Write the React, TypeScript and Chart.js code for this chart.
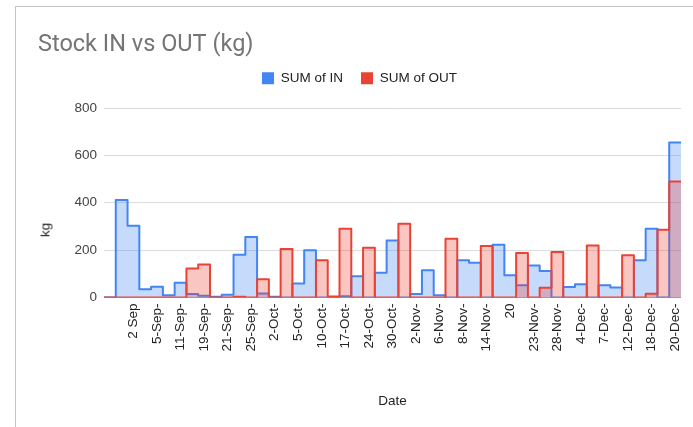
import React, { useEffect, useRef } from 'react';
import Chart from 'chart.js/auto';

const dateLabels: string[] = [
  '', '', '2 Sep', '', '5-Sep-', '', '11-Sep-', '', '19-Sep-', '', '21-Sep-', '', '25-Sep-', '',
  '2-Oct-', '', '5-Oct-', '', '10-Oct-', '', '17-Oct-', '', '24-Oct-', '', '30-Oct-', '',
  '2-Nov-', '', '6-Nov-', '', '8-Nov-', '', '14-Nov-', '', '20', '', '23-Nov-', '', '28-Nov-', '',
  '4-Dec-', '', '7-Dec-', '', '12-Dec-', '', '18-Dec-', '', '20-Dec-',
];

const inValues: number[] = [
  0, 412, 303, 35, 45, 10, 62, 15, 7, 3, 12, 181, 255, 17, 3, 0, 59, 199, 0, 0,
  5, 90, 0, 105, 241, 0, 15, 115, 10, 0, 157, 147, 0, 223, 94, 52, 135, 112, 0, 44,
  56, 0, 52, 42, 0, 157, 290, 0, 654,
];

const outValues: number[] = [
  0, 0, 0, 0, 0, 0, 0, 122, 139, 0, 0, 3, 0, 77, 0, 205, 0, 0, 157, 4,
  290, 0, 210, 0, 0, 311, 0, 0, 0, 248, 0, 0, 217, 0, 0, 188, 0, 41, 192, 0,
  0, 220, 0, 0, 178, 0, 16, 286, 490,
];

const yTicks = { min: 0, max: 800, step: 200 };

const FONT = "'Liberation Sans', Arial, sans-serif";

function steps(vals: number[]) {
  const pts = vals.map((v, i) => ({ x: i, y: v }));
  pts.push({ x: vals.length, y: vals[vals.length - 1] });
  return pts;
}

export default function App() {
  const ref = useRef<HTMLCanvasElement>(null);

  useEffect(() => {
    const legendGap = {
      id: 'legendGap',
      beforeInit(chart: any) {
        const lg = chart.legend;
        if (lg) {
          const fit = lg.fit;
          lg.fit = function () {
            fit.call(this);
            this.height += 13;
          };
        }
      },
    };
    const defaultGen = (Chart as any).defaults.plugins.legend.labels.generateLabels;
    const chart = new Chart(ref.current as HTMLCanvasElement, {
      type: 'line',
      data: {
        labels: dateLabels,
        datasets: [
          {
            label: 'SUM of IN',
            data: steps(inValues),
            xAxisID: 'xs',
            stepped: true,
            borderColor: '#4285f4',
            backgroundColor: 'rgba(66,133,244,0.3)',
            fill: 'origin',
            borderWidth: 2,
            pointRadius: 0,
            borderJoinStyle: 'round',
            order: 2,
          },
          {
            label: 'SUM of OUT',
            data: steps(outValues),
            xAxisID: 'xs',
            stepped: true,
            borderColor: '#ea4335',
            backgroundColor: 'rgba(234,67,53,0.3)',
            fill: 'origin',
            borderWidth: 2,
            pointRadius: 0,
            borderJoinStyle: 'round',
            order: 1,
          },
        ],
      } as any,
      options: {
        animation: false,
        responsive: false,
        maintainAspectRatio: false,
        layout: { padding: { left: 22, right: 25, top: 0, bottom: 0 } },
        plugins: {
          title: {
            display: true,
            text: 'Stock IN vs OUT (kg)',
            align: 'start',
            color: '#757575',
            font: { family: 'Roboto', size: 23.5, weight: 'normal', lineHeight: 1 },
            padding: { top: 26, bottom: -3 },
          },
          legend: {
            display: true,
            position: 'top',
            labels: {
              boxWidth: 12,
              boxHeight: 12,
              padding: 18,
              color: '#222',
              font: { family: FONT, size: 13.5 },
              sort: (a: any, b: any) => a.datasetIndex - b.datasetIndex,
              generateLabels: (c: any) =>
                defaultGen(c).map((l: any) => ({ ...l, fillStyle: l.strokeStyle, lineWidth: 0 })),
            },
          },
          tooltip: { enabled: false },
        },
        scales: {
          x: {
            type: 'category',
            offset: true,
            grid: { display: false, drawTicks: false },
            border: { display: false },
            ticks: {
              autoSkip: false,
              maxRotation: 90,
              minRotation: 90,
              padding: 6,
              color: '#222',
              font: { family: FONT, size: 13.5 },
            },
            title: {
              display: true,
              text: 'Date',
              color: '#222',
              font: { family: FONT, size: 13.5, lineHeight: 1.2 },
              padding: { top: 0, bottom: 0 },
            },
            afterFit: (s: any) => {
              s.height = 111.5;
            },
          },
          xs: {
            type: 'linear',
            display: false,
            position: 'bottom',
            min: 0,
            max: dateLabels.length,
          },
          y: {
            min: yTicks.min,
            max: yTicks.max,
            ticks: {
              stepSize: yTicks.step,
              padding: 7,
              color: '#444',
              font: { family: FONT, size: 13.5 },
            },
            grid: {
              color: (ctx: any) => (ctx.tick && ctx.tick.value === 0 ? '#9e9e9e' : '#dcdcdc'),
              drawTicks: false,
              lineWidth: 1,
            },
            border: { display: false },
            afterFit: (s: any) => {
              s.width = 66;
            },
          },
        },
      } as any,
      plugins: [legendGap],
    });
    return () => chart.destroy();
  }, []);

  return (
    <div
      style={{
        position: 'fixed',
        left: 0,
        top: 0,
        width: 693,
        height: 427,
        overflow: 'hidden',
        background: '#fff',
      }}
    >
      <div
        style={{
          position: 'absolute',
          left: 15,
          top: 6,
          width: 720,
          height: 460,
          border: '1px solid #c4c4c4',
          boxSizing: 'border-box',
        }}
      />
      <canvas
        ref={ref}
        width={690}
        height={402}
        style={{ position: 'absolute', left: 16, top: 7, width: 690, height: 402 }}
      />
      <div
        style={{
          position: 'absolute',
          left: 45,
          top: 230,
          transform: 'translate(-50%, -50%) rotate(-90deg)',
          fontFamily: FONT,
          fontSize: 13.5,
          fontWeight: 'normal',
          color: '#222',
          whiteSpace: 'nowrap',
        }}
      >
        kg
      </div>
    </div>
  );
}
